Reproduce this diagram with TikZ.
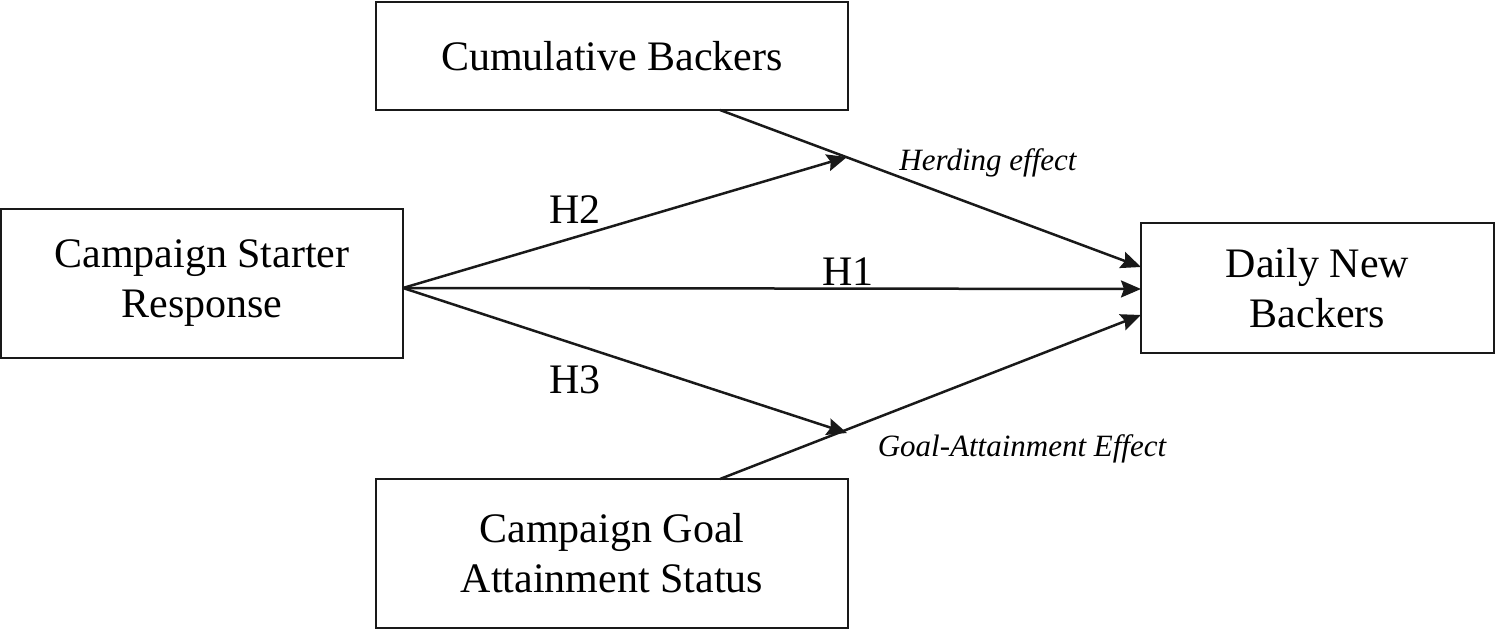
\documentclass[tikz,border=0pt]{standalone}
\usepackage{fontspec}
\setmainfont{Liberation Serif}
\usetikzlibrary{arrows.meta}
\begin{document}
\begin{tikzpicture}[x=0.5pt,y=-0.5pt,
  box/.style={draw=black!90,line width=1.4pt,inner sep=0pt,outer sep=0pt,align=center,
    font=\fontsize{21}{25}\selectfont},
  conn/.style={line width=1.25pt,draw=black!90,-{Stealth[length=10pt,width=8.5pt,inset=1.5pt]}},
  plain/.style={line width=1.25pt,draw=black!90},
  hlab/.style={font=\fontsize{21}{25}\selectfont,inner sep=0pt},
  elab/.style={font=\fontsize{15.5}{18}\selectfont\itshape,inner sep=0pt}]
\useasboundingbox (0,0) rectangle (1495,630);
\node[box,minimum width=236pt,minimum height=54pt] (cum) at (612,56) {Cumulative Backers};
\node[box,minimum width=201pt,minimum height=74.5pt] (start) at (202,283.5) {Campaign Starter\\Response};
\node[box,minimum width=176.5pt,minimum height=65pt] (daily) at (1317.5,288) {Daily New\\Backers};
\node[box,minimum width=236pt,minimum height=74.5pt] (goal) at (612,553.5) {Campaign Goal\\Attainment Status};
\coordinate (sp) at (403,288);
\coordinate (cumout) at (720,110);
\coordinate (goalout) at (720,479);
\coordinate (h2tip) at (847,157);
\coordinate (h3tip) at (847,433);
\coordinate (din1) at (1141,267);
\coordinate (din2) at (1141,289);
\coordinate (din3) at (1141,315);
\draw[conn] (sp) -- (h2tip);
\draw[conn] (sp) -- (din2);
\draw[conn] (sp) -- (h3tip);
\draw[conn] (cumout) -- (din1);
\draw[conn] (goalout) -- (din3);
\node[hlab] (h2) at (575,210) {H2};
\node[hlab] (h1) at (848,272) {H1};
\node[hlab] (h3) at (575,380) {H3};
\node[elab] (herd) at (988,163) {Herding effect};
\node[elab] (gae) at (1022,449) {Goal-Attainment Effect};
\end{tikzpicture}
\end{document}
